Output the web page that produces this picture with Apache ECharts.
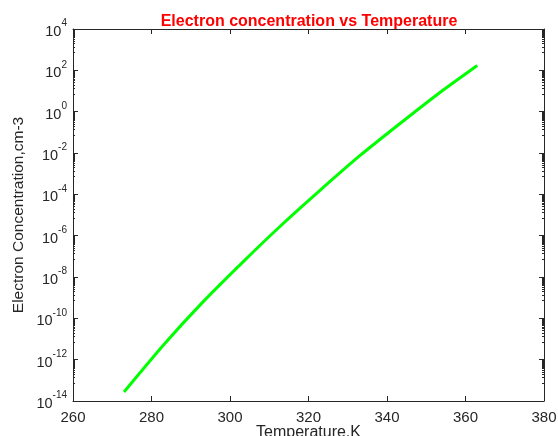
<!DOCTYPE html>
<html>
<head>
<meta charset="utf-8">
<script src="https://cdn.jsdelivr.net/npm/echarts@6/dist/echarts.min.js"></script>
<style>
  html, body { margin: 0; padding: 0; background: #fff; }
  #chart { width: 558px; height: 436px; }
</style>
</head>
<body>
<div id="chart"></div>
<script>
// values
var temperature = [273, 283, 293, 303, 313, 323, 333, 343, 353, 363];
var concentration = [2.75e-14, 5.0e-12, 5.9e-10, 4.7e-8, 3.1e-6, 1.6e-4, 7.2e-3, 2.4e-1, 7.2, 1.7e2];
var xTicks = [260, 280, 300, 320, 340, 360, 380];
var yExponents = [-14, -12, -10, -8, -6, -4, -2, 0, 2, 4];

var axisColor = '#262626';
var font = 'Liberation Sans, Arial, Helvetica, sans-serif';

var points = temperature.map(function (t, i) { return [t, concentration[i]]; });

var chart = echarts.init(document.getElementById('chart'));

var xBase = {
    type: 'value',
    min: xTicks[0],
    max: xTicks[xTicks.length - 1],
    interval: xTicks[1] - xTicks[0],
    axisLine: { show: true, onZero: false, lineStyle: { color: axisColor, width: 1 } },
    axisTick: { show: true, inside: true, length: 5, lineStyle: { color: axisColor } },
    splitLine: { show: false }
};
var yBase = {
    type: 'log',
    logBase: 10,
    min: Math.pow(10, yExponents[0]),
    max: Math.pow(10, yExponents[yExponents.length - 1]),
    interval: 2,
    axisLine: { show: true, onZero: false, lineStyle: { color: axisColor, width: 1 } },
    axisTick: { show: true, inside: true, length: 5, lineStyle: { color: axisColor } },
    minorTick: { show: true, splitNumber: 16, length: 2, lineStyle: { color: axisColor } },
    splitLine: { show: false }
};

var option = {
    animation: false,
    backgroundColor: '#fff',
    title: {
        text: 'Electron concentration vs Temperature',
        left: 304,
        top: 9,
        textAlign: 'center',
        textStyle: { color: '#ff0000', fontSize: 16, fontWeight: 'bold', fontFamily: font }
    },
    grid: { left: 73, right: 14, top: 29, bottom: 35, containLabel: false, outerBoundsMode: 'none' },
    xAxis: [
        Object.assign({}, xBase, {
            position: 'bottom',
            name: 'Temperature,K',
            nameLocation: 'middle',
            nameGap: 24,
            nameMoveOverlap: false,
            nameTextStyle: { color: axisColor, fontSize: 16, fontFamily: font },
            axisLabel: { color: axisColor, fontSize: 15, fontFamily: font, margin: 9 }
        }),
        Object.assign({}, xBase, { position: 'top', axisLabel: { show: false } })
    ],
    yAxis: [
        Object.assign({}, yBase, {
            position: 'left',
            name: 'Electron Concentration,cm-3',
            nameLocation: 'middle',
            nameGap: 46,
            nameMoveOverlap: false,
            nameTextStyle: { color: axisColor, fontSize: 15.5, fontFamily: font },
            axisLabel: {
                color: axisColor,
                margin: 6,
                formatter: function (v) {
                    var e = Math.round(Math.log10(v));
                    return '{b|10}{s|' + e + '}';
                },
                rich: {
                    b: { fontSize: 14.5, fontFamily: font, color: axisColor, padding: [6, 0, 0, 0] },
                    s: { fontSize: 10, fontFamily: font, color: axisColor, verticalAlign: 'top', padding: [0, 0, 6, 0] }
                }
            }
        }),
        Object.assign({}, yBase, { position: 'right', axisLabel: { show: false } })
    ],
    series: [{
        type: 'line',
        data: points,
        showSymbol: false,
        smooth: 0.2,
        lineStyle: { color: '#00ff00', width: 3 },
        xAxisIndex: 0,
        yAxisIndex: 0
    }]
};

chart.setOption(option);
</script>
</body>
</html>
